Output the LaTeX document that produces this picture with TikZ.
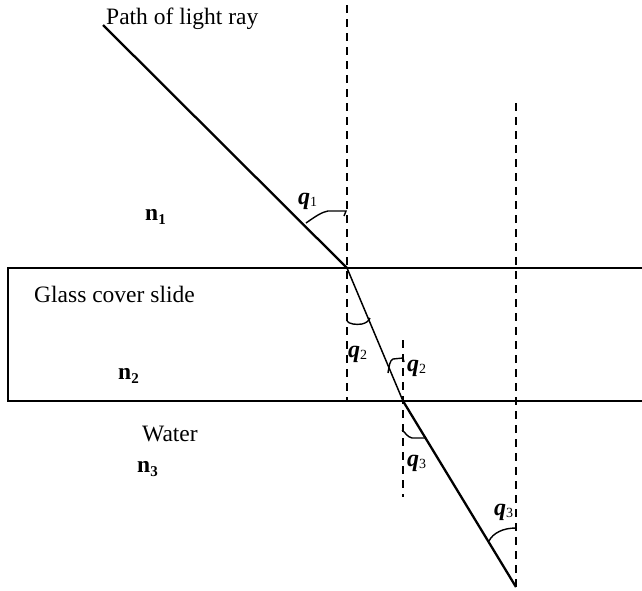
\documentclass[tikz,border=0pt]{standalone}
\usepackage{fontspec}
\setmainfont{Liberation Serif}
\begin{document}
\begin{tikzpicture}[x=1pt,y=-1pt,
  ray/.style={line width=2.3pt},
  thinray/.style={line width=1.5pt},
  normal/.style={line width=1.9pt,dash pattern=on 8pt off 6pt,dash phase=9pt},
  bound/.style={line width=1.9pt},
  arcmark/.style={line width=1.4pt},
  lbl/.style={inner sep=0pt,anchor=base west,font=\fontsize{23.5}{27}\selectfont},
  qlbl/.style={inner sep=0pt,anchor=base west,font=\fontsize{24}{27}\selectfont}]
\useasboundingbox (0,0) rectangle (642,590);
\newcommand{\qth}[1]{{\bfseries\itshape q}\raisebox{-0.12em}{\fontsize{14}{14}\selectfont #1}}
\newcommand{\nidx}[1]{{\bfseries n\raisebox{-0.2em}{\fontsize{15}{15}\selectfont #1}}}
% coordinates
\coordinate (start) at (103,25);
\coordinate (p1) at (347,268);
\coordinate (p2) at (403,401);
\coordinate (end) at (516,587);
\coordinate (n1top) at (347,0);
\coordinate (n1bot) at (347,401);
\coordinate (n2top) at (403,335);
\coordinate (n2bot) at (403,497);
\coordinate (n3top) at (516,98);
\coordinate (tl) at (8,268);
\coordinate (tr) at (642,268);
\coordinate (bl) at (8,401);
\coordinate (br) at (642,401);
% boundaries
\draw[bound] (tr) -- (tl) -- (bl) -- (br);
% normals
\draw[normal] (n1top) -- (n1bot);
\draw[normal] (n2top) -- (n2bot);
\draw[normal] (n3top) -- (end);
% ray
\draw[ray] (start) -- (p1);
\draw[thinray] (p1) -- (p2);
\draw[ray] (p2) -- (end);
% angle marks
\draw[arcmark] (306,223) .. controls (316,216) and (322,212) .. (328,211) -- (346,211) -- (344,216);
\draw[arcmark] (347,321) .. controls (349,324) and (356,325) .. (362,324) .. controls (366,323) and (369,321) .. (370,318);
\draw[arcmark] (388,373) .. controls (389,366) and (390,360) .. (393,359) -- (403,358) -- (404,362);
\draw[arcmark] (402,430) .. controls (405,432) and (407,437) .. (412,438) -- (426,438);
\draw[arcmark] (489,541) .. controls (493,533) and (503,528) .. (516,528);
% labels
\node[lbl] (path) at (106,24) {Path of light ray};
\node[lbl] (glass) at (34,302) {Glass cover slide};
\node[lbl] (water) at (142,441) {Water};
\node[lbl] (n1) at (145,220) {\nidx{1}};
\node[lbl] (n2) at (118,379) {\nidx{2}};
\node[lbl] (n3) at (137,472) {\nidx{3}};
\node[qlbl] (q1) at (298,204) {\qth{1}};
\node[qlbl] (q2a) at (348,357) {\qth{2}};
\node[qlbl] (q2b) at (407,371) {\qth{2}};
\node[qlbl] (q3a) at (407,466) {\qth{3}};
\node[qlbl] (q3b) at (494,515) {\qth{3}};
\end{tikzpicture}
\end{document}
